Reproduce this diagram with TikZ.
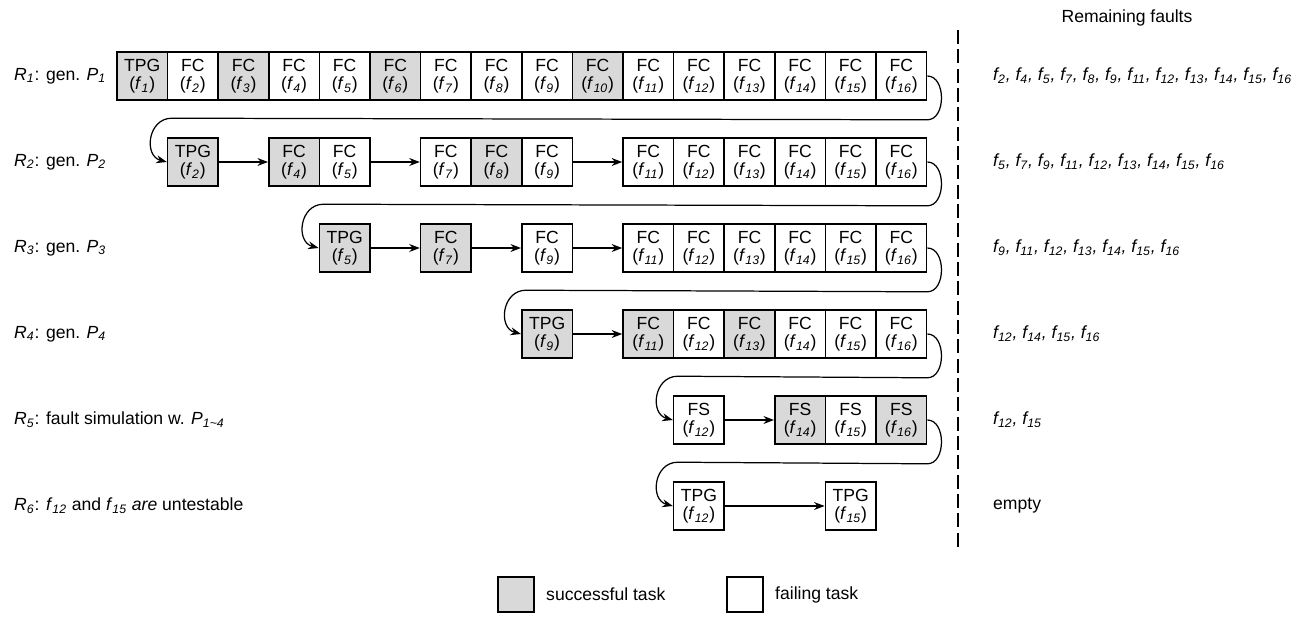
\documentclass[tikz,border=0pt]{standalone}
\usepackage{fontspec}
\setmainfont{Liberation Sans}
\usepackage{xcolor}
\usepackage{tikz}
\usetikzlibrary{arrows.meta}

\definecolor{okgray}{RGB}{217,217,217}
\newcommand{\fa}[1]{\textit{f}\textsubscript{\textit{#1}}}
\newcommand{\cellfont}{\fontsize{10}{10.5}\selectfont}

\begin{document}
\begin{tikzpicture}[
        node distance=1.012cm,
        cell/.style={rectangle, draw, line width=0.9pt, minimum width=1.012cm, minimum height=0.96cm, inner sep=0pt, align=center, font=\cellfont},
        ok/.style={cell, fill=okgray},
        fail/.style={cell, fill=white},
        arrow/.style={->, >={Stealth[length=6pt,width=4.5pt]}, line width=0.7pt},
        lbl/.style={anchor=west, font=\fontsize{10}{12}\selectfont},
        key/.style={rectangle, draw, line width=0.9pt, minimum width=0.72cm, minimum height=0.70cm}
    ]
        \useasboundingbox (0,0) rectangle (25.86,-12.32);

        % Round 1
        \node[ok] (r1c1) at (2.846,-1.52) {TPG\\(\fa{1})};
        \node[fail, right of=r1c1] (r1c2) {FC\\(\fa{2})};
        \node[ok, right of=r1c2] (r1c3) {FC\\(\fa{3})};
        \node[fail, right of=r1c3] (r1c4) {FC\\(\fa{4})};
        \node[fail, right of=r1c4] (r1c5) {FC\\(\fa{5})};
        \node[ok, right of=r1c5] (r1c6) {FC\\(\fa{6})};
        \node[fail, right of=r1c6] (r1c7) {FC\\(\fa{7})};
        \node[fail, right of=r1c7] (r1c8) {FC\\(\fa{8})};
        \node[fail, right of=r1c8] (r1c9) {FC\\(\fa{9})};
        \node[ok, right of=r1c9] (r1c10) {FC\\(\fa{10})};
        \node[fail, right of=r1c10] (r1c11) {FC\\(\fa{11})};
        \node[fail, right of=r1c11] (r1c12) {FC\\(\fa{12})};
        \node[fail, right of=r1c12] (r1c13) {FC\\(\fa{13})};
        \node[fail, right of=r1c13] (r1c14) {FC\\(\fa{14})};
        \node[fail, right of=r1c14] (r1c15) {FC\\(\fa{15})};
        \node[fail, right of=r1c15] (r1c16) {FC\\(\fa{16})};

        % Round 2
        \node[ok] (r2c2) at (3.858,-3.24) {TPG\\(\fa{2})};
        \node[ok, right of=r2c2, xshift=1.012cm] (r2c4) {FC\\(\fa{4})};
        \node[fail, right of=r2c4] (r2c5) {FC\\(\fa{5})};
        \node[fail, right of=r2c5, xshift=1.012cm] (r2c7) {FC\\(\fa{7})};
        \node[ok, right of=r2c7] (r2c8) {FC\\(\fa{8})};
        \node[fail, right of=r2c8] (r2c9) {FC\\(\fa{9})};
        \node[fail, right of=r2c9, xshift=1.012cm] (r2c11) {FC\\(\fa{11})};
        \node[fail, right of=r2c11] (r2c12) {FC\\(\fa{12})};
        \node[fail, right of=r2c12] (r2c13) {FC\\(\fa{13})};
        \node[fail, right of=r2c13] (r2c14) {FC\\(\fa{14})};
        \node[fail, right of=r2c14] (r2c15) {FC\\(\fa{15})};
        \node[fail, right of=r2c15] (r2c16) {FC\\(\fa{16})};

        % Round 3
        \node[ok] (r3c5) at (6.894,-4.96) {TPG\\(\fa{5})};
        \node[ok, right of=r3c5, xshift=1.012cm] (r3c7) {FC\\(\fa{7})};
        \node[fail, right of=r3c7, xshift=1.012cm] (r3c9) {FC\\(\fa{9})};
        \node[fail, right of=r3c9, xshift=1.012cm] (r3c11) {FC\\(\fa{11})};
        \node[fail, right of=r3c11] (r3c12) {FC\\(\fa{12})};
        \node[fail, right of=r3c12] (r3c13) {FC\\(\fa{13})};
        \node[fail, right of=r3c13] (r3c14) {FC\\(\fa{14})};
        \node[fail, right of=r3c14] (r3c15) {FC\\(\fa{15})};
        \node[fail, right of=r3c15] (r3c16) {FC\\(\fa{16})};

        % Round 4
        \node[ok] (r4c9) at (10.942,-6.68) {TPG\\(\fa{9})};
        \node[ok, right of=r4c9, xshift=1.012cm] (r4c11) {FC\\(\fa{11})};
        \node[fail, right of=r4c11] (r4c12) {FC\\(\fa{12})};
        \node[ok, right of=r4c12] (r4c13) {FC\\(\fa{13})};
        \node[fail, right of=r4c13] (r4c14) {FC\\(\fa{14})};
        \node[fail, right of=r4c14] (r4c15) {FC\\(\fa{15})};
        \node[fail, right of=r4c15] (r4c16) {FC\\(\fa{16})};

        % Round 5
        \node[fail] (r5c12) at (13.978,-8.40) {FS\\(\fa{12})};
        \node[ok, right of=r5c12, xshift=1.012cm] (r5c14) {FS\\(\fa{14})};
        \node[fail, right of=r5c14] (r5c15) {FS\\(\fa{15})};
        \node[ok, right of=r5c15] (r5c16) {FS\\(\fa{16})};

        % Round 6
        \node[fail] (r6c12) at (13.978,-10.12) {TPG\\(\fa{12})};
        \node[fail, right of=r6c12, xshift=2.024cm] (r6c15) {TPG\\(\fa{15})};

        % Arrows inside a round
        \draw[arrow] (r2c2) -- (r2c4);
        \draw[arrow] (r2c5) -- (r2c7);
        \draw[arrow] (r2c9) -- (r2c11);
        \draw[arrow] (r3c5) -- (r3c7);
        \draw[arrow] (r3c7) -- (r3c9);
        \draw[arrow] (r3c9) -- (r3c11);
        \draw[arrow] (r4c9) -- (r4c11);
        \draw[arrow] (r5c12) -- (r5c14);
        \draw[arrow] (r6c12) -- (r6c15);

        % Arrows from one round to the next
        \coordinate[yshift=-0.38cm] (g1r) at (r1c16.south east);
        \coordinate[yshift=0.38cm, xshift=0.1cm] (g1l) at (r2c2.north west);
        \draw[arrow] (r1c16.east) to[out=0, in=0, looseness=1.1] (g1r) -- (g1l) to[out=180, in=165, looseness=1.4] (r2c2.west);
        \coordinate[yshift=-0.38cm] (g2r) at (r2c16.south east);
        \coordinate[yshift=0.38cm, xshift=0.1cm] (g2l) at (r3c5.north west);
        \draw[arrow] (r2c16.east) to[out=0, in=0, looseness=1.1] (g2r) -- (g2l) to[out=180, in=165, looseness=1.4] (r3c5.west);
        \coordinate[yshift=-0.38cm] (g3r) at (r3c16.south east);
        \coordinate[yshift=0.38cm, xshift=0.1cm] (g3l) at (r4c9.north west);
        \draw[arrow] (r3c16.east) to[out=0, in=0, looseness=1.1] (g3r) -- (g3l) to[out=180, in=165, looseness=1.4] (r4c9.west);
        \coordinate[yshift=-0.38cm] (g4r) at (r4c16.south east);
        \coordinate[yshift=0.38cm, xshift=0.1cm] (g4l) at (r5c12.north west);
        \draw[arrow] (r4c16.east) to[out=0, in=0, looseness=1.1] (g4r) -- (g4l) to[out=180, in=165, looseness=1.4] (r5c12.west);
        \coordinate[yshift=-0.38cm] (g5r) at (r5c16.south east);
        \coordinate[yshift=0.38cm, xshift=0.1cm] (g5l) at (r6c12.north west);
        \draw[arrow] (r5c16.east) to[out=0, in=0, looseness=1.1] (g5r) -- (g5l) to[out=180, in=165, looseness=1.4] (r6c12.west);

        % Round labels
        \node[lbl] (l1) at (0.16,-1.52) {\textit{R}\textsubscript{\textit{1}}: gen. \textit{P}\textsubscript{\textit{1}}};
        \node[lbl] (l2) at (0.16,-3.24) {\textit{R}\textsubscript{\textit{2}}: gen. \textit{P}\textsubscript{\textit{2}}};
        \node[lbl] (l3) at (0.16,-4.96) {\textit{R}\textsubscript{\textit{3}}: gen. \textit{P}\textsubscript{\textit{3}}};
        \node[lbl] (l4) at (0.16,-6.68) {\textit{R}\textsubscript{\textit{4}}: gen. \textit{P}\textsubscript{\textit{4}}};
        \node[lbl] (l5) at (0.16,-8.40) {\textit{R}\textsubscript{\textit{5}}: fault simulation w. \textit{P}\textsubscript{\textit{1\textasciitilde4}}};
        \node[lbl] (l6) at (0.16,-10.12) {\textit{R}\textsubscript{\textit{6}}: \fa{12} and \fa{15} \textit{are} untestable};

        % Remaining faults
        \coordinate (dtop) at (19.16,-0.6);
        \coordinate (dbot) at (19.16,-10.96);
        \draw[line width=1pt, dash pattern=on 8pt off 3pt] (dtop) -- (dbot);
        \node[font=\fontsize{10}{12}\selectfont] (rf) at (22.54,-0.36) {Remaining faults};
        \node[lbl] (f1) at (19.74,-1.52) {\textit{\fa{2}, \fa{4}, \fa{5}, \fa{7}, \fa{8}, \fa{9}, \fa{11}, \fa{12}, \fa{13}, \fa{14}, \fa{15}, \fa{16}}};
        \node[lbl] (f2) at (19.74,-3.24) {\textit{\fa{5}, \fa{7}, \fa{9}, \fa{11}, \fa{12}, \fa{13}, \fa{14}, \fa{15}, \fa{16}}};
        \node[lbl] (f3) at (19.74,-4.96) {\textit{\fa{9}, \fa{11}, \fa{12}, \fa{13}, \fa{14}, \fa{15}, \fa{16}}};
        \node[lbl] (f4) at (19.74,-6.68) {\textit{\fa{12}, \fa{14}, \fa{15}, \fa{16}}};
        \node[lbl] (f5) at (19.74,-8.40) {\textit{\fa{12}, \fa{15}}};
        \node[lbl] (f6) at (19.74,-10.12) {empty};

        % Legend
        \node[key, fill=okgray] (k1) at (10.32,-11.89) {};
        \node[lbl] (k1t) at (10.80,-11.89) {successful task};
        \node[key, fill=white] (k2) at (14.90,-11.89) {};
        \node[lbl] (k2t) at (15.38,-11.89) {failing task};
    \end{tikzpicture}
\end{document}
